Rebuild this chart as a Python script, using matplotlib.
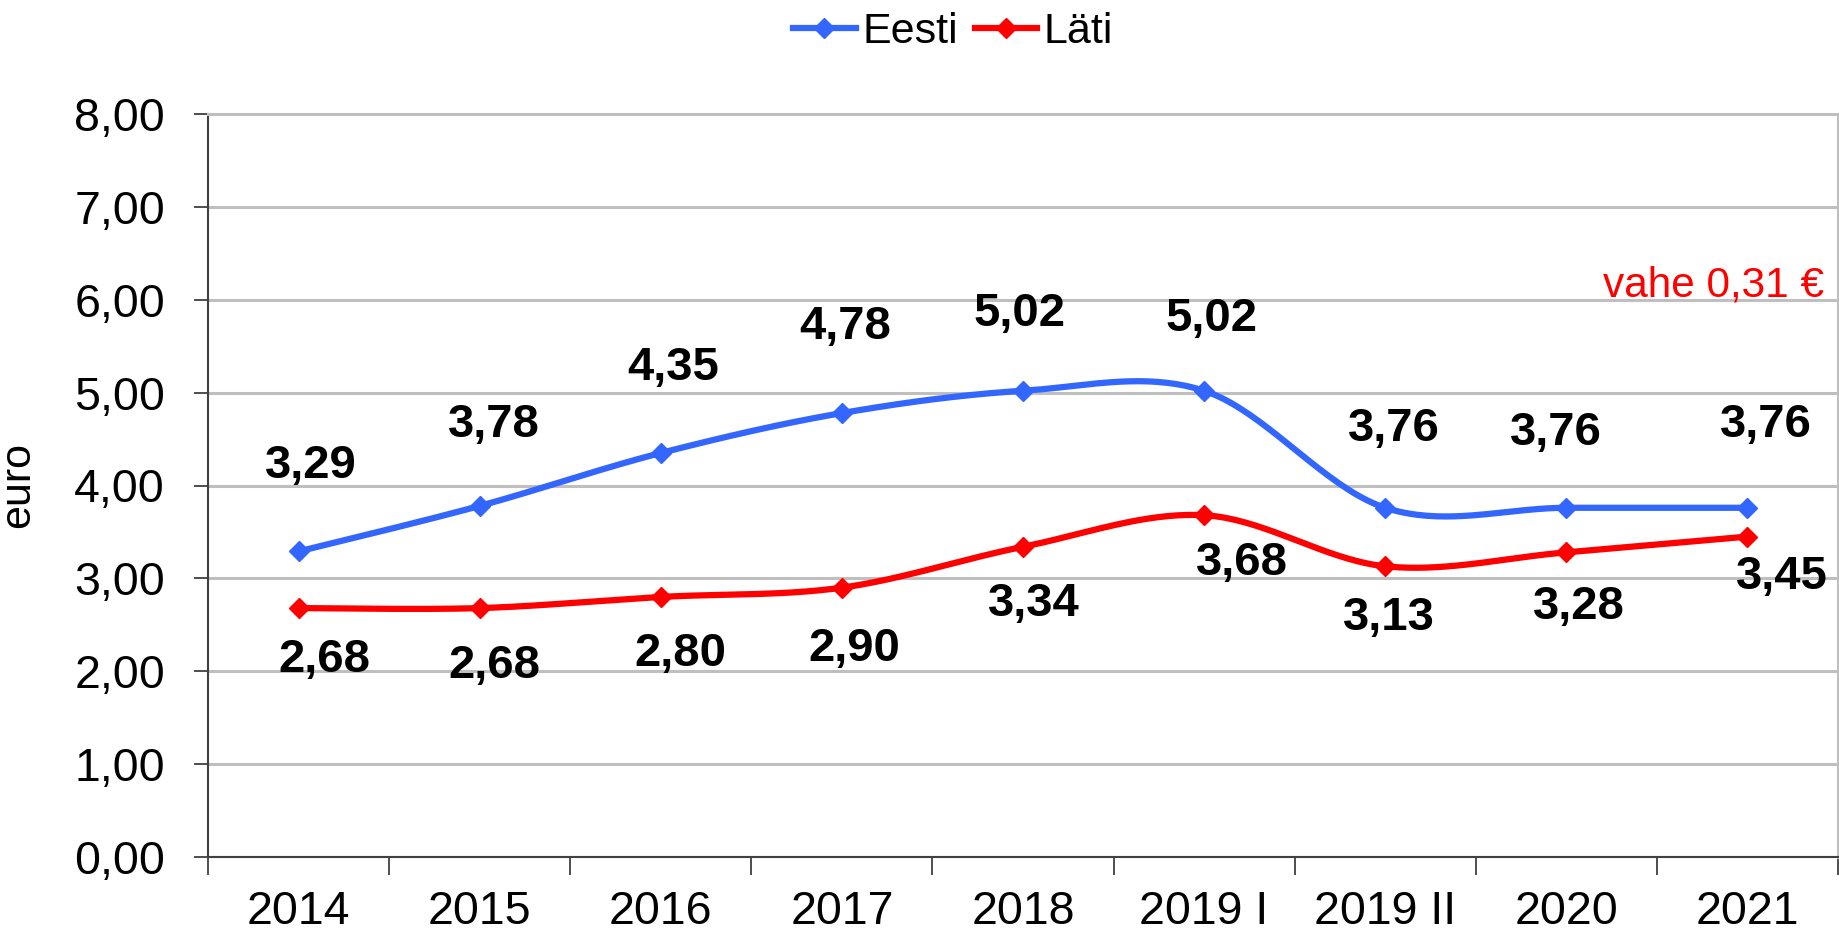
import matplotlib as mpl
mpl.use('Agg')
import matplotlib.pyplot as plt
import numpy as np
from matplotlib.lines import Line2D

plt.rcParams['font.family'] = ['Liberation Sans', 'DejaVu Sans']

aastad = ['2014', '2015', '2016', '2017', '2018', '2019 I', '2019 II', '2020', '2021']
eesti = [3.29, 3.78, 4.35, 4.78, 5.02, 5.02, 3.76, 3.76, 3.76]
lati = [2.68, 2.68, 2.80, 2.90, 3.34, 3.68, 3.13, 3.28, 3.45]
y_ticks = [0, 1, 2, 3, 4, 5, 6, 7, 8]
vahe_tekst = 'vahe 0,31 €'

# sildi nihked (andmeuhikutes) punkti suhtes
eesti_dx = [0.07, 0.08, 0.07, 0.02, -0.02, 0.04, 0.05, -0.06, 0.10]
eesti_dy = [0.92, 0.87, 0.92, 0.93, 0.83, 0.77, 0.85, 0.80, 0.89]
lati_dx = [0.14, 0.08, 0.11, 0.07, 0.06, 0.21, 0.02, 0.07, 0.19]
lati_dy = [-0.56, -0.62, -0.61, -0.66, -0.62, -0.51, -0.56, -0.59, -0.44]

SININE = '#3366FF'
PUNANE = '#FF0000'


# Exceli moodi silutud joon (Catmull-Rom / Bezier)
def silu(x, y, n=40):
    p = np.column_stack([x, y]).astype(float)
    xs, ys = [], []
    t = np.linspace(0, 1, n)
    for i in range(len(p) - 1):
        p0 = p[i - 1] if i > 0 else p[i]
        p1 = p[i]
        p2 = p[i + 1]
        p3 = p[i + 2] if i + 2 < len(p) else p[i + 1]
        c1 = p1 + (p2 - p0) / 6
        c2 = p2 - (p3 - p1) / 6
        b = ((1 - t) ** 3)[:, None] * p1 + (3 * (1 - t) ** 2 * t)[:, None] * c1 \
            + (3 * (1 - t) * t ** 2)[:, None] * c2 + (t ** 3)[:, None] * p2
        xs.extend(b[:, 0])
        ys.extend(b[:, 1])
    return np.array(xs), np.array(ys)


fig = plt.figure(figsize=(18.4, 9.32), dpi=100)
ax = fig.add_axes([208 / 1840, 75 / 932, 1630 / 1840, 743 / 932])

x = np.arange(len(aastad))
for vals, col in [(eesti, SININE), (lati, PUNANE)]:
    sx, sy = silu(x, vals)
    ax.plot(sx, sy, color=col, lw=4.5, solid_capstyle='round', zorder=3)
    ax.plot(x, vals, ls='none', marker='D', ms=10, color=col, zorder=4)

for i in range(len(aastad)):
    ax.text(x[i] + eesti_dx[i], eesti[i] + eesti_dy[i], f'{eesti[i]:.2f}'.replace('.', ','),
            ha='center', va='center', fontsize=34, fontweight='bold', color='black')
    ax.text(x[i] + lati_dx[i], lati[i] + lati_dy[i], f'{lati[i]:.2f}'.replace('.', ','),
            ha='center', va='center', fontsize=34, fontweight='bold', color='black')

ax.text(8.42, 6.03, vahe_tekst, ha='right', va='baseline', fontsize=30.5, color=PUNANE)

ax.set_xlim(-0.5, len(aastad) - 0.5)
ax.set_ylim(0, 8)
ax.set_yticks(y_ticks)
ax.set_yticklabels([f'{v:.2f}'.replace('.', ',') for v in y_ticks], fontsize=33.5)
ax.set_xticks(x)
ax.set_xticklabels(aastad, fontsize=33.5)
ax.tick_params(axis='x', length=0, pad=24)
ax.set_xticks(np.arange(-0.5, len(aastad)), minor=True)
ax.tick_params(axis='x', which='minor', length=13, width=1.3, color='#404040', direction='out')
ax.tick_params(axis='y', length=10, width=1.3, color='#404040', pad=21)

ax.grid(axis='y', color='#BFBFBF', lw=2.2, zorder=0)
for s in ['left', 'bottom']:
    ax.spines[s].set_color('#404040')
    ax.spines[s].set_linewidth(1.5)
for s in ['top', 'right']:
    ax.spines[s].set_color('#BFBFBF')
    ax.spines[s].set_linewidth(2.2)

fig.text(18 / 1840, (932 - 485) / 932, 'euro', rotation=90, ha='center', va='center', fontsize=31)

handles = [Line2D([], [], color=SININE, lw=4.5, marker='D', ms=10),
           Line2D([], [], color=PUNANE, lw=4.5, marker='D', ms=10)]
fig.legend(handles, ['Eesti', 'Läti'], loc='center', bbox_to_anchor=(0.518, 0.966), ncol=2,
           frameon=False, fontsize=31, handlelength=1.45, handletextpad=0.15, columnspacing=0.4)

fig.savefig('out.png', dpi=100)
